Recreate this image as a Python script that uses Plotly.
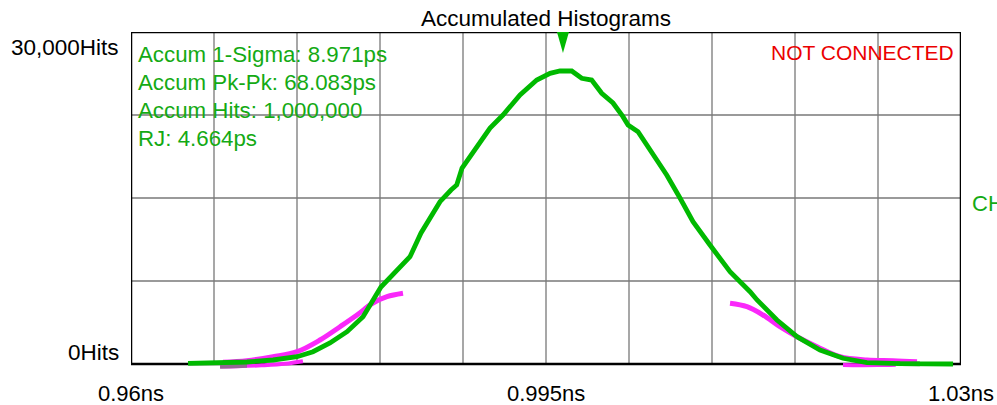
import plotly.graph_objects as go

# Accumulated histogram trace (time in ns, counts in hits)
hist_ns = [0.96481, 0.96692, 0.96978, 0.97198, 0.97400, 0.97535, 0.97678, 0.97822,
           0.97957, 0.98108, 0.98243, 0.98353, 0.98446, 0.98522, 0.98606, 0.98699,
           0.98747, 0.98792, 0.98916, 0.99028, 0.99137, 0.99281, 0.99422, 0.99534,
           0.99618, 0.99717, 0.99801, 0.99885, 0.99970, 1.00065, 1.00149, 1.00192,
           1.00276, 1.00402, 1.00518, 1.00630, 1.00740, 1.00883, 1.01052, 1.01221,
           1.01280, 1.01448, 1.01617, 1.01811, 1.02005, 1.02207, 1.02486, 1.02933]
hist_hits = [60, 117, 181, 361, 660, 1111, 1898, 2919,
             4274, 6958, 8494, 9696, 11837, 13193, 14665, 15723,
             16174, 17711, 19518, 21325, 22500, 24307, 25662, 26268,
             26475, 26475, 25816, 25662, 24460, 23584, 22346, 21596,
             20991, 18885, 17078, 15000, 12858, 10753, 8340, 6533,
             5783, 3976, 2467, 1265, 515, 117, 27, 0]

# Random-jitter tail fits (left and right)
tail_left_ns = [0.96776, 0.96978, 0.97198, 0.97400, 0.97594, 0.97763, 0.97906, 0.98041, 0.98159, 0.98294]
tail_left_hits = [150, 298, 660, 1111, 2169, 3370, 4428, 5512, 6081, 6388]
tail_right_ns = [1.01052, 1.01195, 1.01330, 1.01473, 1.01617, 1.01786, 1.01980, 1.02207, 1.02427, 1.02629]
tail_right_hits = [5485, 5178, 4428, 3370, 2467, 1563, 660, 361, 298, 208]

# Lower edges of the tail fits near the baseline
tail_left_low_ns = [0.96751, 0.96900, 0.97100, 0.97300, 0.97450]
tail_left_low_hits = [-230, -200, -120, 20, 250]
tail_right_low_ns = [1.02005, 1.02150, 1.02300, 1.02450]
tail_right_low_hits = [-90, -110, -100, -60]

# Histogram limits markers at the baseline
limit_left_ns = [0.96751, 0.96978]
limit_left_hits = [-200, -120]
limit_right_ns = [1.02459, 1.02653]
limit_right_hits = [40, 30]

mean_ns = 0.99643

x_min, x_max, x_step = 0.96, 1.03, 0.007
y_min, y_max, y_step = 0, 30000, 7500
x_tick_vals = [0.96, 0.995, 1.03]
x_tick_text = ["0.96ns", "0.995ns", "1.03ns"]
y_tick_text = ["0Hits", "30,000Hits"]

stats_lines = ["Accum 1-Sigma: 8.971ps", "Accum Pk-Pk: 68.083ps",
               "Accum Hits: 1,000,000", "RJ: 4.664ps"]

FONT = "Liberation Sans, Arial, sans-serif"
GREEN = "rgb(0,185,0)"
TEXT_GREEN = "rgb(20,170,20)"
MAGENTA = "rgb(250,40,250)"
GRID = "rgb(120,120,120)"

fig = go.Figure()

fig.add_trace(go.Scatter(x=tail_left_low_ns, y=tail_left_low_hits, mode="lines",
                         line=dict(color=MAGENTA, width=4, shape="spline"), hoverinfo="skip"))
fig.add_trace(go.Scatter(x=tail_right_low_ns, y=tail_right_low_hits, mode="lines",
                         line=dict(color=MAGENTA, width=4, shape="spline"), hoverinfo="skip"))
fig.add_trace(go.Scatter(x=tail_left_ns, y=tail_left_hits, mode="lines",
                         line=dict(color=MAGENTA, width=5, shape="spline"), hoverinfo="skip"))
fig.add_trace(go.Scatter(x=tail_right_ns, y=tail_right_hits, mode="lines",
                         line=dict(color=MAGENTA, width=5, shape="spline"), hoverinfo="skip"))
fig.add_trace(go.Scatter(x=limit_left_ns, y=limit_left_hits, mode="lines",
                         line=dict(color="rgba(120,120,120,0.8)", width=5), hoverinfo="skip"))
fig.add_trace(go.Scatter(x=limit_right_ns, y=limit_right_hits, mode="lines",
                         line=dict(color="rgba(120,120,120,0.8)", width=5), hoverinfo="skip"))
fig.add_trace(go.Scatter(x=hist_ns, y=hist_hits, mode="lines",
                         line=dict(color=GREEN, width=4.8), hoverinfo="skip"))

shapes = []
n_x = round((x_max - x_min) / x_step)
for k in range(1, n_x):
    xv = x_min + k * x_step
    shapes.append(dict(type="line", xref="x", yref="y", x0=xv, x1=xv, y0=y_min, y1=y_max,
                       line=dict(color=GRID, width=1.3), layer="below"))
n_y = round((y_max - y_min) / y_step)
for k in range(1, n_y):
    yv = y_min + k * y_step
    shapes.append(dict(type="line", xref="x", yref="y", x0=x_min, x1=x_max, y0=yv, y1=yv,
                       line=dict(color=GRID, width=1.3), layer="below"))
shapes.append(dict(type="rect", xref="x", yref="y", x0=x_min, x1=x_max, y0=y_min, y1=y_max,
                   line=dict(color="black", width=2.5), layer="below"))
# mean position marker hanging from the top border
shapes.append(dict(type="path", xref="x", yref="y", xsizemode="pixel", ysizemode="pixel",
                   xanchor=mean_ns, yanchor=y_max, path="M -6 0 L 6 0 L 0 -21 Z",
                   fillcolor=GREEN, line=dict(color=GREEN, width=0), layer="above"))

annotations = []
annotations.append(dict(text="Accumulated Histograms", xref="x", yref="paper",
                        x=(x_min + x_max) / 2, y=1, yanchor="middle", yshift=14,
                        showarrow=False, font=dict(family=FONT, size=22.5, color="black")))
for xv, xt in zip(x_tick_vals, x_tick_text):
    annotations.append(dict(text=xt, xref="x", yref="paper", x=xv, y=0, yanchor="middle",
                            yshift=-23, showarrow=False,
                            font=dict(family=FONT, size=22, color="black")))
annotations.append(dict(text=y_tick_text[1], xref="paper", yref="y", x=0, y=y_max,
                        xanchor="right", yanchor="middle", xshift=-10, yshift=-15,
                        showarrow=False, font=dict(family=FONT, size=22.5, color="black")))
annotations.append(dict(text=y_tick_text[0], xref="paper", yref="y", x=0, y=y_min,
                        xanchor="right", yanchor="middle", xshift=-10, yshift=12,
                        showarrow=False, font=dict(family=FONT, size=22.5, color="black")))
for i, line in enumerate(stats_lines):
    annotations.append(dict(text=line, xref="paper", yref="paper", x=0, y=1,
                            xanchor="left", yanchor="middle", xshift=5, yshift=-22 - 28 * i,
                            showarrow=False, font=dict(family=FONT, size=22.3, color=TEXT_GREEN)))
annotations.append(dict(text="NOT CONNECTED", xref="paper", yref="paper", x=1, y=1,
                        xanchor="right", yanchor="middle", xshift=-5, yshift=-20,
                        showarrow=False, font=dict(family=FONT, size=21, color="rgb(235,0,0)")))
annotations.append(dict(text="CH", xref="paper", yref="y", x=1, y=y_max / 2,
                        xanchor="left", yanchor="middle", xshift=9, yshift=-5,
                        showarrow=False, font=dict(family=FONT, size=22, color=TEXT_GREEN)))

fig.update_layout(
    width=997, height=405,
    margin=dict(l=131, r=36, t=32, b=35, pad=0),
    paper_bgcolor="white", plot_bgcolor="white",
    showlegend=False,
    xaxis=dict(range=[x_min, x_max], visible=False, fixedrange=True),
    yaxis=dict(range=[-542.17, y_max], visible=False, fixedrange=True),
    shapes=shapes, annotations=annotations,
)

fig.write_html("out.html")
